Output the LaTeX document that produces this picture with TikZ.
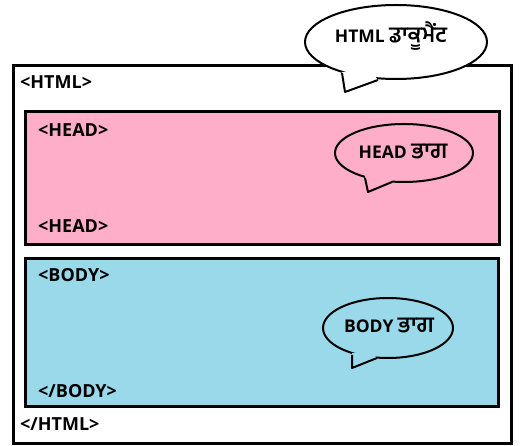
\documentclass[tikz,border=0pt]{standalone}
\usepackage{fontspec}
\setmainfont{Open Sans}
\newfontfamily\gurfont[Script=Gurmukhi,Scale=1.25]{Hind Jalandhar}
\definecolor{headpink}{RGB}{255,174,201}
\definecolor{bodyblue}{RGB}{153,217,234}
\begin{document}
\begin{tikzpicture}[x=1pt,y=-1pt,
  tag/.style={anchor=base west,inner sep=0pt,font=\fontsize{18}{20}\selectfont\bfseries},
  bubtext/.style={anchor=base,inner sep=0pt,font=\fontsize{17.5}{20}\selectfont\bfseries},
  boxline/.style={line width=3pt},
  bubline/.style={line width=2pt,line join=round}]
\useasboundingbox (0,0) rectangle (525,446);
% outer HTML box
\draw[boxline] (13,66) rectangle (511,443);
% head box
\draw[boxline,fill=headpink] (25,112) rectangle (499,245);
% body box
\draw[boxline,fill=bodyblue] (25,259) rectangle (498,406);
% bubble 1
\filldraw[bubline,fill=white] (396,42) ellipse [x radius=91, y radius=37];
\fill[white] (342,72) -- (345,92) -- (378,80) -- (370,70) -- cycle;
\draw[bubline] (342,73) -- (345,92) -- (378,80);
% bubble 2
\filldraw[bubline,fill=headpink] (404,153) ellipse [x radius=69, y radius=29];
\fill[headpink] (365,176) -- (368,192) -- (392,181) -- (385,174) -- cycle;
\draw[bubline] (365,178) -- (368,192) -- (392,182);
% bubble 3
\filldraw[bubline,fill=bodyblue] (388,328) ellipse [x radius=65, y radius=30];
\fill[bodyblue] (352,353) -- (352,368) -- (377,358) -- (370,351) -- cycle;
\draw[bubline] (352,355) -- (352,368) -- (377,358);
% texts
\node[tag] (htmlopen) at (20,89) {<HTML>};
\node[tag] (headopen) at (38,137) {<HEAD>};
\node[tag] (headclose) at (38,233) {<HEAD>};
\node[tag] (bodyopen) at (38,282) {<BODY>};
\node[tag] (bodyclose) at (38,397) {</BODY>};
\node[tag] (htmlclose) at (20,430) {</HTML>};
\node[bubtext] (doclabel) at (391,43) {HTML {\gurfont ਡਾਕੂਮੈਂਟ}};
\node[bubtext] (headlabel) at (403,159) {HEAD {\gurfont ਭਾਗ}};
\node[bubtext] (bodylabel) at (389,333) {BODY {\gurfont ਭਾਗ}};
\end{tikzpicture}
\end{document}
